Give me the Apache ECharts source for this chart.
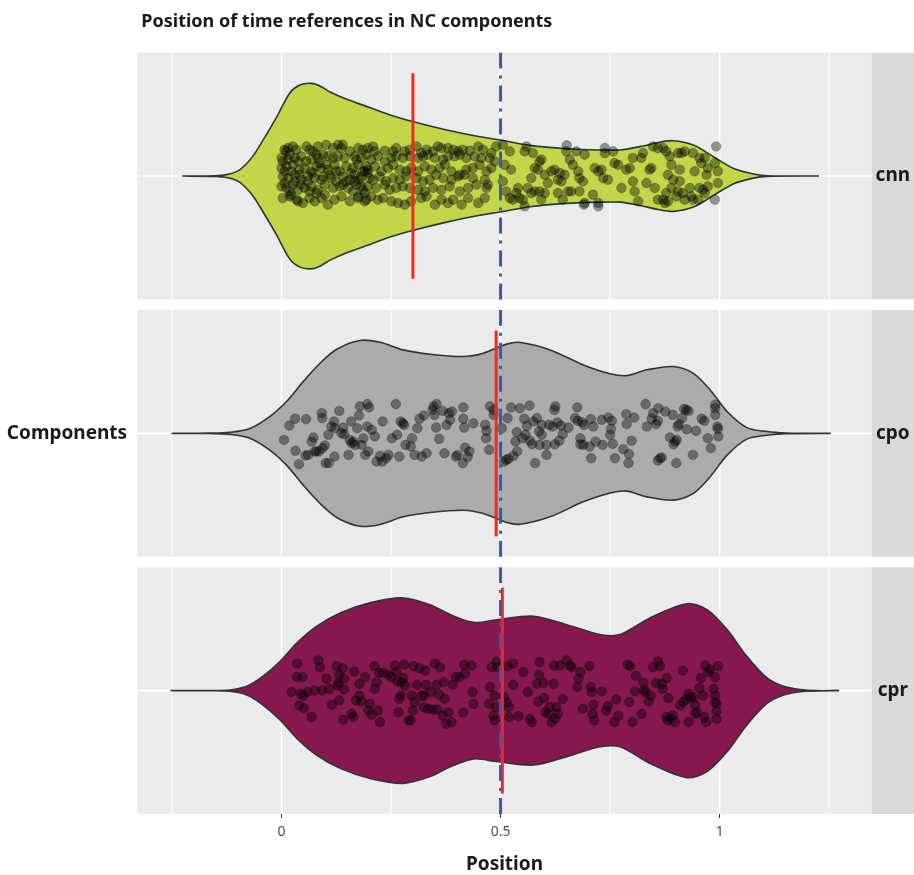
<!DOCTYPE html>
<html>
<head>
<meta charset="utf-8">
<script src="https://cdn.jsdelivr.net/npm/echarts@6/dist/echarts.min.js"></script>
<style>
  html, body { margin: 0; padding: 0; background: #ffffff; }
  #chart { width: 914px; height: 875px; }
</style>
</head>
<body>
<div id="chart"></div>
<script>
// ---- data ----------------------------------------------------------------
const categories = ['cnn', 'cpo', 'cpr'];
const xMajorTicks = [0, 0.5, 1];
const xMinorTicks = [-0.25, 0.25, 0.75, 1.25];
const referencePosition = 0.5;
const medians = [0.30, 0.49, 0.504];

// violin outlines: [position, half width of the density]
const violinCnn = [[-0.227,0],[-0.15,0.0015],[-0.125,0.007],[-0.1,0.024],[-0.087,0.045],[-0.065,0.097],[-0.042,0.175],[-0.011,0.287],[0.019,0.404],[0.042,0.443],[0.069,0.451],[0.09,0.436],[0.111,0.409],[0.149,0.373],[0.186,0.345],[0.248,0.297],[0.301,0.264],[0.377,0.224],[0.453,0.191],[0.499,0.175],[0.567,0.149],[0.651,0.133],[0.727,0.127],[0.773,0.127],[0.818,0.143],[0.86,0.163],[0.894,0.172],[0.94,0.151],[0.986,0.094],[1.032,0.037],[1.077,0.010],[1.108,0.0015],[1.15,0],[1.225,0]];
const violinCpo = [[-0.251,0],[-0.16,0.001],[-0.118,0.005],[-0.072,0.024],[-0.026,0.083],[0.012,0.156],[0.05,0.253],[0.088,0.341],[0.126,0.409],[0.179,0.452],[0.225,0.443],[0.278,0.406],[0.339,0.385],[0.415,0.374],[0.461,0.390],[0.514,0.434],[0.545,0.442],[0.613,0.406],[0.689,0.333],[0.750,0.290],[0.788,0.281],[0.834,0.309],[0.894,0.325],[0.94,0.292],[0.978,0.212],[1.017,0.106],[1.062,0.028],[1.108,0.009],[1.153,0.0015],[1.2,0],[1.252,0]];
const violinCpr = [[-0.252,0],[-0.16,0.0005],[-0.118,0.003],[-0.079,0.021],[-0.042,0.070],[-0.003,0.143],[0.035,0.232],[0.08,0.313],[0.134,0.378],[0.202,0.427],[0.278,0.451],[0.339,0.418],[0.385,0.370],[0.438,0.332],[0.491,0.345],[0.575,0.362],[0.651,0.321],[0.727,0.273],[0.773,0.273],[0.841,0.354],[0.925,0.423],[0.971,0.394],[1.017,0.297],[1.062,0.167],[1.108,0.062],[1.146,0.021],[1.185,0.005],[1.22,0],[1.271,0]];

// jittered observations: [position, jitter offset]
const pointsCnn = [
[0.007,0.128],[0.015,0.136],[0.026,0.144],[0.034,0.128],[0.057,0.144],[0.064,0.128],[0.072,0.120],[0.083,0.144],[0.102,0.152],[0.118,0.136],[0.129,0.152],[0.137,0.136],[0.140,0.152],[0.156,0.120],[0.175,0.136],[0.186,0.128],[0.197,0.136],[0.209,0.144],[0.213,0.120],[0.236,0.123],[0.255,0.120],[0.262,0.136],[0.281,0.120],[0.293,0.128],[0.308,0.144],[0.319,0.112],[0.331,0.128],[0.346,0.120],[0.357,0.144],[0.365,0.136],[0.380,0.136],[0.392,0.128],[0.403,0.120],[0.414,0.128],[0.430,0.123],[0.449,0.144],[0.460,0.128],[0.479,0.112],[0.490,0.144],
[0.003,0.071],[0.019,0.104],[0.030,0.088],[0.045,0.096],[0.068,0.080],[0.083,0.088],[0.095,0.104],[0.106,0.096],[0.118,0.088],[0.129,0.096],[0.144,0.088],[0.167,0.096],[0.182,0.088],[0.194,0.104],[0.205,0.080],[0.220,0.096],[0.236,0.071],[0.251,0.088],[0.262,0.096],[0.277,0.088],[0.293,0.096],[0.312,0.088],[0.323,0.096],[0.334,0.104],[0.350,0.088],[0.369,0.080],[0.380,0.096],[0.395,0.096],[0.407,0.104],[0.422,0.088],[0.441,0.096],[0.456,0.088],[0.475,0.088],[0.487,0.071],
[0.000,0.039],[0.011,0.047],[0.026,0.055],[0.041,0.031],[0.053,0.039],[0.068,0.023],[0.080,0.047],[0.091,0.039],[0.106,0.031],[0.121,0.055],[0.133,0.023],[0.148,0.047],[0.163,0.039],[0.175,0.055],[0.190,0.023],[0.197,0.031],[0.213,0.047],[0.228,0.023],[0.243,0.039],[0.255,0.055],[0.270,0.031],[0.285,0.023],[0.296,0.039],[0.312,0.023],[0.327,0.047],[0.342,0.031],[0.361,0.039],[0.373,0.055],[0.388,0.023],[0.407,0.006],[0.422,0.031],[0.437,0.039],[0.452,0.055],[0.468,0.023],[0.479,0.039],
[0.003,-0.002],[0.015,-0.010],[0.030,0.006],[0.045,-0.018],[0.060,-0.002],[0.076,-0.010],[0.091,-0.018],[0.110,0.006],[0.125,-0.026],[0.140,-0.002],[0.156,-0.018],[0.167,0.006],[0.182,-0.002],[0.197,0.015],[0.209,-0.018],[0.224,-0.002],[0.239,-0.026],[0.255,-0.010],[0.270,-0.018],[0.285,-0.002],[0.308,-0.010],[0.323,-0.026],[0.338,-0.018],[0.353,0.006],[0.369,-0.010],[0.388,-0.018],[0.403,-0.002],[0.418,0.006],[0.437,-0.010],[0.464,-0.018],[0.471,-0.042],
[0.000,-0.050],[0.011,-0.058],[0.026,-0.042],[0.038,-0.067],[0.053,-0.058],[0.068,-0.050],[0.083,-0.067],[0.099,-0.042],[0.118,-0.058],[0.133,-0.050],[0.152,-0.058],[0.171,-0.042],[0.186,-0.067],[0.197,-0.050],[0.216,-0.058],[0.236,-0.042],[0.247,-0.067],[0.262,-0.058],[0.277,-0.050],[0.293,-0.058],[0.312,-0.067],[0.327,-0.075],[0.346,-0.058],[0.365,-0.067],[0.384,-0.050],[0.407,-0.075],[0.426,-0.058],[0.445,-0.042],[0.468,-0.058],
[0.003,-0.107],[0.019,-0.099],[0.034,-0.115],[0.049,-0.131],[0.064,-0.107],[0.076,-0.123],[0.091,-0.107],[0.106,-0.139],[0.121,-0.115],[0.137,-0.099],[0.156,-0.123],[0.175,-0.107],[0.190,-0.123],[0.205,-0.099],[0.220,-0.115],[0.232,-0.107],[0.251,-0.123],[0.266,-0.131],[0.281,-0.139],[0.296,-0.123],[0.319,-0.107],[0.331,-0.099],[0.350,-0.139],[0.365,-0.115],[0.380,-0.131],[0.392,-0.115],[0.411,-0.139],[0.426,-0.107],[0.449,-0.131],[0.464,-0.107],
[0.000,0.088],[0.007,0.023],[0.015,0.080],[0.022,0.023],[0.030,-0.026],[0.038,0.071],[0.007,-0.034],[0.019,-0.075],[0.041,0.006],[0.057,0.071],[0.060,-0.026],[0.072,0.015],[0.080,-0.083],[0.087,0.063],[0.099,-0.091],[0.114,-0.010],[0.125,0.023],[0.140,-0.042],[0.159,0.015],[0.163,-0.075],[0.178,-0.018],[0.186,0.023],[0.190,-0.083],[0.201,-0.010],[0.167,-0.026],[0.175,-0.099],[0.194,0.047],
[0.011,0.120],[0.022,-0.091],[0.038,-0.123],[0.045,-0.042],[0.064,-0.075],[0.080,0.104],[0.095,-0.002],[0.102,0.055],[0.148,-0.026],[0.171,0.080],[0.182,-0.050],[0.194,-0.115],
[0.505,0.152],[0.521,0.120],[0.509,0.055],[0.524,0.031],[0.505,-0.026],[0.513,-0.075],[0.521,-0.107],[0.559,0.144],[0.555,0.120],[0.574,0.112],[0.589,0.071],[0.593,0.080],[0.578,0.039],[0.570,-0.010],[0.585,0.031],[0.601,0.006],[0.608,-0.034],[0.562,-0.058],[0.540,-0.058],[0.543,-0.107],[0.551,-0.115],[0.555,-0.147],[0.528,-0.115],[0.536,-0.083],[0.570,-0.083],[0.578,-0.075],[0.589,-0.075],[0.601,-0.083],[0.593,-0.115],[0.616,0.023],[0.623,0.031],[0.635,0.015],[0.631,-0.018],[0.639,-0.026],[0.646,0.006],[0.650,0.120],[0.658,0.080],[0.665,0.055],[0.673,0.120],[0.677,0.023],[0.680,-0.010],[0.692,0.104],[0.688,-0.026],[0.631,-0.083],[0.642,-0.115],[0.654,-0.075],[0.661,-0.075],[0.680,-0.075],[0.692,-0.131],[0.711,-0.091],[0.723,-0.131],[0.715,0.039],[0.723,0.023],[0.730,0.031],[0.734,-0.010],[0.738,0.112],[0.738,0.136],[0.745,-0.018],[0.757,0.120],[0.760,0.063],[0.768,0.055],[0.776,-0.058],[0.787,0.031],[0.795,0.039],[0.802,0.088],[0.802,-0.026],[0.806,-0.075],[0.814,-0.123],[0.821,0.088],[0.825,0.112],[0.833,-0.034],[0.840,0.031],[0.844,0.039],[0.848,0.144],[0.852,-0.058],[0.859,0.136],[0.871,0.136],[0.878,0.120],[0.886,0.096],[0.890,0.055],[0.882,0.006],[0.890,-0.058],[0.894,-0.018],[0.878,-0.083],[0.871,-0.115],[0.882,-0.123],[0.905,0.112],[0.909,0.031],[0.909,-0.026],[0.913,0.112],[0.920,0.120],[0.901,-0.099],[0.920,-0.115],[0.935,-0.099],[0.943,0.023],[0.939,0.112],[0.954,0.088],[0.958,0.063],[0.966,0.088],[0.970,0.006],[0.973,0.039],[0.989,0.063],[0.996,0.023],[0.954,-0.058],[0.962,-0.067],[0.966,-0.083],[0.973,-0.050],[0.996,-0.034],[0.992,0.144],[0.989,-0.115],[0.951,-0.115],[0.939,-0.115],[0.932,-0.058],[0.916,-0.083],[0.905,-0.075],[0.859,-0.115],[0.875,-0.131],[0.690,-0.139],[0.723,-0.147],[0.651,0.149]
];
const pointsCpo = [
[0.006,-0.032],[0.018,0.038],[0.031,0.071],[0.032,-0.085],[0.040,-0.150],[0.056,0.069],[0.055,-0.108],[0.061,-0.105],[0.069,-0.040],[0.073,-0.020],[0.076,-0.088],[0.080,-0.088],[0.086,-0.088],[0.092,0.098],[0.093,0.074],[0.094,-0.072],[0.099,-0.059],[0.101,-0.145],[0.107,-0.007],[0.108,-0.145],[0.114,0.033],[0.120,0.058],[0.122,0.025],[0.121,-0.113],[0.132,0.109],[0.137,0.001],[0.141,0.028],[0.143,-0.004],[0.153,-0.105],[0.156,-0.032],[0.159,0.058],[0.160,-0.048],[0.164,-0.040],[0.168,-0.056],[0.173,0.025],[0.177,0.087],[0.179,0.131],[0.183,-0.056],[0.187,-0.024],[0.191,-0.105],[0.196,0.142],[0.198,-0.088],[0.200,0.126],[0.196,0.033],[0.206,0.017],[0.213,-0.015],[0.217,-0.137],[0.225,-0.110],[0.231,0.058],[0.230,-0.137],[0.239,-0.121],[0.244,-0.105],[0.252,-0.024],[0.261,0.142],[0.264,-0.007],[0.269,-0.113],[0.272,0.058],[0.277,0.049],[0.280,0.041],[0.283,-0.056],[0.295,-0.064],[0.298,-0.024],[0.304,-0.105],[0.310,0.025],[0.315,0.071],[0.320,-0.113],[0.325,0.087],[0.331,-0.097],[0.347,0.131],[0.345,0.114],[0.349,0.090],[0.354,0.142],[0.353,0.028],[0.360,-0.027],[0.368,0.109],[0.372,-0.097],[0.377,0.041],[0.382,0.098],[0.385,0.066],[0.389,0.106],[0.398,-0.113],[0.402,-0.105],[0.415,0.126],[0.415,0.071],[0.417,0.028],[0.419,-0.069],[0.414,-0.145],[0.425,-0.114],[0.429,-0.088],[0.438,0.049],[0.465,0.041],[0.467,-0.024],[0.468,0.012],[0.474,-0.080],[0.476,0.131],[0.484,0.114],[0.484,0.090],
[0.503,0.025],[0.508,-0.137],[0.513,-0.129],[0.518,-0.124],[0.516,0.074],[0.524,0.126],[0.529,-0.110],[0.534,-0.040],[0.537,0.006],[0.538,-0.088],[0.544,0.122],[0.550,-0.024],[0.554,0.071],[0.557,-0.007],[0.560,0.036],[0.566,0.135],[0.567,-0.036],[0.572,-0.053],[0.575,0.058],[0.579,-0.145],[0.583,0.074],[0.588,0.009],[0.594,-0.007],[0.589,-0.056],[0.594,0.041],[0.605,-0.056],[0.605,-0.105],[0.611,0.041],[0.619,0.033],[0.623,0.114],[0.624,-0.053],[0.625,0.131],[0.630,0.053],[0.634,-0.036],[0.638,0.038],[0.642,-0.004],[0.655,0.028],[0.670,0.074],[0.675,0.126],[0.676,0.061],[0.682,-0.024],[0.682,-0.053],[0.686,0.054],[0.689,-0.056],[0.691,0.041],[0.703,-0.064],[0.706,0.069],[0.707,-0.121],[0.712,0.033],[0.717,-0.040],[0.731,0.066],[0.733,-0.056],[0.746,0.077],[0.750,-0.007],[0.752,0.022],[0.754,0.061],[0.756,-0.051],[0.761,-0.121],[0.780,-0.077],[0.787,0.093],[0.788,0.045],[0.793,-0.101],[0.792,-0.145],[0.799,-0.036],[0.805,0.077],[0.831,0.142],[0.834,0.033],[0.845,0.071],[0.848,0.098],[0.855,0.045],[0.859,0.061],[0.860,0.122],[0.859,-0.132],[0.864,-0.121],[0.868,-0.118],[0.876,0.106],[0.887,-0.020],[0.893,0.090],[0.895,-0.053],[0.898,-0.040],[0.901,-0.145],[0.902,-0.032],[0.904,0.033],[0.907,0.045],[0.914,0.074],[0.919,0.119],[0.924,0.114],[0.929,0.109],[0.925,0.020],[0.939,-0.105],[0.946,0.012],[0.959,0.071],[0.965,0.061],[0.973,-0.024],[0.980,-0.072],[0.990,0.139],[0.990,0.122],[0.990,0.090],[0.995,0.033],[0.996,0.022],[0.997,-0.015]
];
const pointsCpr = [
[0.023,-0.007],[0.036,0.131],[0.035,0.066],[0.048,0.066],[0.044,-0.015],[0.050,-0.024],[0.041,-0.072],[0.051,-0.085],[0.069,-0.129],[0.059,-0.007],[0.076,0.001],[0.084,0.147],[0.088,0.114],[0.093,0.001],[0.103,0.058],[0.109,0.009],[0.115,-0.069],[0.126,0.119],[0.132,0.077],[0.130,0.038],[0.128,0.025],[0.132,-0.048],[0.140,0.109],[0.143,0.006],[0.143,0.058],[0.141,-0.142],[0.160,-0.113],[0.164,-0.129],[0.166,0.093],[0.170,-0.048],[0.178,0.033],[0.178,-0.024],[0.183,-0.053],[0.191,0.066],[0.198,-0.097],[0.202,-0.064],[0.206,-0.118],[0.212,0.119],[0.213,0.009],[0.217,0.041],[0.220,-0.097],[0.223,0.087],[0.225,-0.153],[0.232,0.087],[0.244,0.077],[0.251,0.066],[0.259,0.122],[0.263,0.093],[0.265,0.045],[0.267,-0.105],[0.269,-0.040],[0.272,-0.024],[0.274,0.041],[0.280,0.126],[0.282,0.025],[0.278,0.061],[0.290,-0.145],[0.295,-0.145],[0.297,-0.024],[0.300,-0.097],[0.301,0.119],[0.304,-0.056],[0.309,0.028],[0.315,0.109],[0.320,-0.024],[0.325,-0.024],[0.328,0.098],[0.330,0.028],[0.325,-0.080],[0.335,-0.088],[0.341,-0.007],[0.345,-0.092],[0.350,0.131],[0.354,0.028],[0.356,-0.092],[0.360,-0.020],[0.362,0.114],[0.368,-0.121],[0.370,0.041],[0.373,-0.040],[0.376,-0.161],[0.381,-0.105],[0.388,-0.153],[0.391,0.028],[0.398,0.066],[0.407,0.066],[0.417,0.126],[0.415,-0.105],[0.419,0.082],[0.434,0.122],[0.436,-0.007],[0.438,-0.064],[0.476,0.017],[0.480,0.114],[0.474,-0.064],[0.486,-0.024],[0.487,-0.145],[0.484,-0.121],[0.490,-0.080],[0.491,0.142],[0.493,0.114],
[0.508,-0.032],[0.514,-0.059],[0.516,0.119],[0.519,-0.080],[0.520,-0.129],[0.529,0.131],[0.529,0.028],[0.541,-0.124],[0.552,0.090],[0.562,-0.007],[0.567,-0.137],[0.571,-0.153],[0.583,0.033],[0.586,-0.053],[0.589,0.139],[0.588,0.077],[0.598,0.038],[0.599,-0.036],[0.602,-0.105],[0.609,-0.113],[0.613,-0.080],[0.617,-0.153],[0.621,0.033],[0.622,0.122],[0.624,-0.137],[0.628,-0.080],[0.631,-0.113],[0.636,0.122],[0.642,-0.040],[0.651,0.147],[0.659,0.122],[0.662,0.114],[0.675,0.017],[0.678,0.058],[0.682,0.090],[0.688,-0.088],[0.703,0.119],[0.706,0.017],[0.708,-0.007],[0.710,-0.113],[0.712,-0.069],[0.714,-0.145],[0.731,-0.004],[0.741,-0.097],[0.745,-0.075],[0.760,-0.153],[0.764,-0.043],[0.769,-0.121],[0.790,0.126],[0.794,-0.056],[0.796,0.119],[0.801,-0.153],[0.807,-0.004],[0.809,0.071],[0.822,-0.113],[0.826,0.038],[0.828,0.001],[0.830,-0.007],[0.838,-0.053],[0.843,-0.024],[0.848,0.114],[0.855,0.038],[0.859,0.142],[0.864,0.119],[0.868,0.033],[0.870,0.009],[0.878,-0.129],[0.879,0.061],[0.883,-0.036],[0.882,-0.145],[0.887,-0.134],[0.893,-0.121],[0.898,-0.153],[0.910,-0.072],[0.916,0.098],[0.917,-0.056],[0.924,-0.043],[0.929,-0.153],[0.929,-0.015],[0.934,-0.032],[0.940,-0.032],[0.944,-0.113],[0.948,-0.105],[0.944,-0.072],[0.954,0.012],[0.957,0.061],[0.962,-0.024],[0.965,-0.129],[0.967,0.122],[0.969,-0.153],[0.974,0.090],[0.978,0.103],[0.986,0.009],[0.990,-0.024],[0.990,0.066],[0.990,-0.056],[0.993,-0.064],[0.993,-0.101],[0.993,-0.137],[0.996,0.119]
];

const violins = [violinCnn, violinCpo, violinCpr];
const points = [pointsCnn, pointsCpo, pointsCpr];

// ---- layout & style --------------------------------------------------------
const FONT = "'Noto Sans', 'DejaVu Sans', sans-serif";
const PANEL_LEFT = 137.3;
const PANEL_RIGHT = 871.7;
const PANEL_TOPS = [52.7, 310, 567.3];
const PANEL_HEIGHT = 246.7;
const STRIP_WIDTH = 914 - PANEL_RIGHT;
const X_MIN = -0.329, X_MAX = 1.347;
const Y_MIN = -0.6, Y_MAX = 0.6;
const FILLS = ['#C3D64A', '#ABABAB', '#86184F'];

const grids = [], xAxes = [], yAxes = [], series = [], graphics = [];

// vertical white guides of one panel
const guideLines = []
  .concat(xMinorTicks.map(v => ({ x: v, w: 1.0 })))
  .concat(xMajorTicks.map(v => ({ x: v, w: 1.6 })));

categories.forEach((cat, i) => {
  const last = i === categories.length - 1;
  grids.push({
    left: PANEL_LEFT, top: PANEL_TOPS[i],
    width: PANEL_RIGHT - PANEL_LEFT, height: PANEL_HEIGHT,
    show: true, backgroundColor: '#EBEBEB', borderWidth: 0
  });
  xAxes.push({
    gridIndex: i, type: 'value', min: X_MIN, max: X_MAX,
    axisLine: { show: false, onZero: false },
    splitLine: { show: false },
    axisTick: { show: last, customValues: xMajorTicks, length: 4,
                lineStyle: { color: '#333333', width: 1 } },
    axisLabel: { show: last, customValues: xMajorTicks, margin: 11,
                 color: '#4D4D4D', fontSize: 14, fontFamily: FONT },
    name: last ? 'Position' : '',
    nameLocation: 'middle', nameGap: 41,
    nameTextStyle: { color: '#1A1A1A', fontSize: 19, fontWeight: 'bold', fontFamily: FONT }
  });
  yAxes.push({
    gridIndex: i, type: 'value', min: Y_MIN, max: Y_MAX,
    axisLine: { show: false, onZero: false }, axisTick: { show: false },
    axisLabel: { show: false }, splitLine: { show: false }
  });

  // white panel grid
  series.push({
    type: 'custom', xAxisIndex: i, yAxisIndex: i, z: 1, silent: true,
    data: [[0, 0]],
    renderItem: (params, api) => {
      const children = guideLines.map(g => {
        const a = api.coord([g.x, Y_MIN]), b = api.coord([g.x, Y_MAX]);
        return { type: 'line', shape: { x1: a[0], y1: a[1], x2: b[0], y2: b[1] },
                 style: { stroke: '#FFFFFF', lineWidth: g.w } };
      });
      const l = api.coord([X_MIN, 0]), r = api.coord([X_MAX, 0]);
      children.push({ type: 'line', shape: { x1: l[0], y1: l[1], x2: r[0], y2: r[1] },
                      style: { stroke: '#FFFFFF', lineWidth: 1.6 } });
      return { type: 'group', children };
    }
  });

  // violin body
  const outline = violins[i];
  series.push({
    type: 'custom', xAxisIndex: i, yAxisIndex: i, z: 2, silent: true,
    data: [[0, 0]],
    renderItem: (params, api) => {
      const upper = outline.map(d => api.coord([d[0], d[1]]));
      const lower = outline.filter(d => d[1] > 0).reverse().map(d => api.coord([d[0], -d[1]]));
      return {
        type: 'polygon',
        shape: { points: upper.concat(lower), smooth: 0.3 },
        style: { fill: FILLS[i], stroke: '#333333', lineWidth: 1.6 }
      };
    }
  });

  // jittered observations
  series.push({
    type: 'scatter', xAxisIndex: i, yAxisIndex: i, z: 3, silent: true,
    data: points[i], symbolSize: 9.6,
    itemStyle: { color: 'rgba(0,0,0,0.48)', borderColor: 'rgba(0,0,0,0.3)', borderWidth: 1 }
  });

  // median of the component
  series.push({
    type: 'line', xAxisIndex: i, yAxisIndex: i, z: 4, silent: true, symbol: 'none',
    data: [[medians[i], -0.5], [medians[i], 0.5]],
    lineStyle: { color: '#EE2A24', width: 3 }
  });

  // reference position at the middle
  series.push({
    type: 'line', xAxisIndex: i, yAxisIndex: i, z: 5, silent: true, symbol: 'none',
    data: [[referencePosition, Y_MIN], [referencePosition, Y_MAX]],
    lineStyle: { color: '#3C58AE', width: 3, type: [16, 7, 3, 7] }
  });

  // facet strip
  graphics.push({
    type: 'rect', silent: true,
    shape: { x: PANEL_RIGHT, y: PANEL_TOPS[i], width: STRIP_WIDTH, height: PANEL_HEIGHT },
    style: { fill: '#D9D9D9' }
  });
  graphics.push({
    type: 'text', silent: true,
    x: PANEL_RIGHT + STRIP_WIDTH / 2, y: PANEL_TOPS[i] + PANEL_HEIGHT / 2,
    style: { text: cat, fill: '#1A1A1A', font: `bold 19px ${FONT}`,
             textAlign: 'center', textVerticalAlign: 'middle' }
  });
});

graphics.push({
  type: 'text', silent: true,
  x: 67, y: PANEL_TOPS[0] + (PANEL_TOPS[2] + PANEL_HEIGHT - PANEL_TOPS[0]) / 2,
  style: { text: 'Components', fill: '#1A1A1A', font: `bold 19px ${FONT}`,
           textAlign: 'center', textVerticalAlign: 'middle' }
});

const chart = echarts.init(document.getElementById('chart'), null, { renderer: 'canvas' });
chart.setOption({
  animation: false,
  backgroundColor: '#FFFFFF',
  title: {
    text: 'Position of time references in NC components',
    left: PANEL_LEFT - 1, top: 8,
    textStyle: { color: '#1A1A1A', fontSize: 18, fontWeight: 'bold', fontFamily: FONT }
  },
  grid: grids,
  xAxis: xAxes,
  yAxis: yAxes,
  series: series,
  graphic: graphics
});
</script>
</body>
</html>
